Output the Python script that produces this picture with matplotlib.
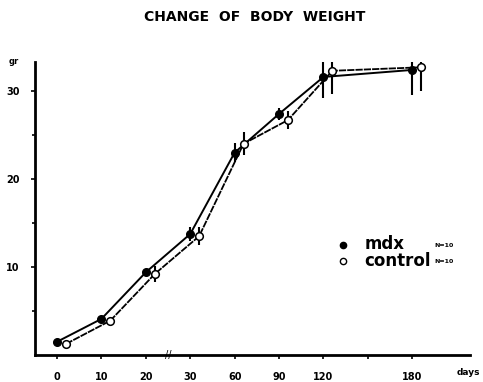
import matplotlib
matplotlib.use("Agg")
import matplotlib.pyplot as plt
import numpy as np

plt.rcParams['font.family'] = ['DejaVu Sans']

days = [0, 10, 20, 30, 60, 90, 120, 180]
day_pos = [0, 1, 2, 3, 4, 5, 6, 8]          # broken / compressed day axis
mdx = [1.5, 4.1, 9.4, 13.75, 23.0, 27.4, 31.6, 32.4]
mdx_err = [0.0, 0.0, 0.0, 0.85, 1.1, 0.7, 2.4, 2.8]
control = [1.25, 3.9, 9.2, 13.5, 24.0, 26.7, 32.3, 32.7]
control_err = [0.0, 0.0, 0.9, 1.0, 1.3, 1.0, 2.6, 2.7]
x_ticks_pos = [0, 1, 2, 3, 4, 5, 6, 7, 8]
x_tick_labels = ['0', '10', '20', '30', '60', '90', '120', '', '180']
y_major = [10, 20, 30]
y_minor = [5, 15, 25]

fig = plt.figure(figsize=(4.83, 3.82), dpi=100)
ax = fig.add_axes([0.0725, 0.0707, 0.9006, 0.767])

xm = np.array(day_pos, dtype=float)
xc = xm + 0.2

ax.plot(xm, mdx, color='black', lw=1.4, zorder=3)
ax.plot(xc, control, color='black', lw=1.3, ls=(0, (4, 0.6)), zorder=3)
ax.errorbar(xm, mdx, yerr=mdx_err, fmt='none', ecolor='black', elinewidth=1.5, capsize=0, zorder=4)
ax.errorbar(xc, control, yerr=control_err, fmt='none', ecolor='black', elinewidth=1.5, capsize=0, zorder=4)
ax.plot(xm, mdx, ls='none', marker='o', ms=5.5, mfc='black', mec='black', zorder=5)
ax.plot(xc, control, ls='none', marker='o', ms=5.5, mfc='white', mec='black', mew=1.1, zorder=5)

ax.set_xlim(-0.495, 9.3)
ax.set_ylim(0, 33.3)

for s in ['top', 'right']:
    ax.spines[s].set_visible(False)
for s in ['left', 'bottom']:
    ax.spines[s].set_linewidth(2.0)

ax.set_xticks(x_ticks_pos)
ax.set_xticklabels(x_tick_labels, fontsize=7, fontweight='bold')
ax.set_yticks(y_major)
ax.set_yticklabels([str(v) for v in y_major], fontsize=7, fontweight='bold')
ax.set_yticks(y_minor, minor=True)
ax.tick_params(axis='x', which='both', direction='out', length=3, width=1.2, pad=9)
ax.tick_params(axis='y', which='both', direction='out', length=3, width=1.2, pad=8)
ax.tick_params(axis='y', which='minor', length=2.5)

# axis break mark
ax.text(2.5, 0, '//', transform=ax.transData, ha='center', va='center',
        fontsize=7, clip_on=False, zorder=6)

fig.text(0.528, 0.955, 'CHANGE  OF  BODY  WEIGHT', ha='center', va='center',
         fontsize=10, fontweight='bold')
fig.text(0.029, 0.838, 'gr', ha='center', va='center', fontsize=6, fontweight='bold')
fig.text(0.969, 0.013, 'days', ha='center', va='bottom', fontsize=6.5, fontweight='bold')

# legend
ax.plot([0.71], [0.358], transform=fig.transFigure, marker='o', ms=4.5,
        mfc='black', mec='black', ls='none', clip_on=False)
ax.plot([0.71], [0.316], transform=fig.transFigure, marker='o', ms=4.5,
        mfc='white', mec='black', mew=1.0, ls='none', clip_on=False)
fig.text(0.755, 0.36, 'mdx', ha='left', va='center', fontsize=12, fontweight='bold')
fig.text(0.755, 0.316, 'control', ha='left', va='center', fontsize=12, fontweight='bold')
fig.text(0.90, 0.358, 'N=10', ha='left', va='center', fontsize=4.5, fontweight='bold')
fig.text(0.90, 0.316, 'N=10', ha='left', va='center', fontsize=4.5, fontweight='bold')

fig.savefig('out.png', dpi=100, facecolor='white')
